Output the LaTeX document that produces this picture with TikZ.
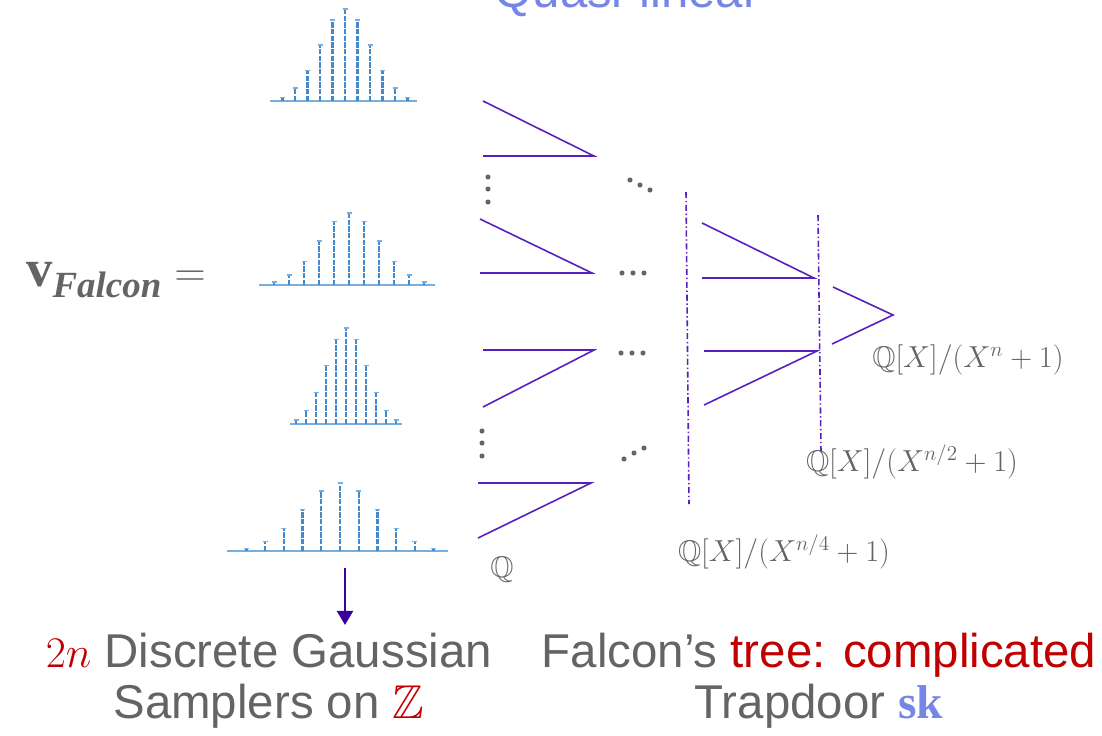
\documentclass[tikz,border=0pt]{standalone}
\usepackage[no-math]{fontspec}
\setmainfont{Liberation Sans}
\newfontfamily\serifbold{Liberation Serif}
\usepackage{amsmath,amssymb}
\usetikzlibrary{arrows.meta}
\definecolor{txtgray}{RGB}{100,100,100}
\definecolor{darkred}{RGB}{192,0,0}
\definecolor{skblue}{RGB}{118,134,230}
\definecolor{treeviolet}{RGB}{88,30,190}
\definecolor{arrowviolet}{RGB}{60,0,160}
\definecolor{stemblue}{RGB}{66,138,205}
\definecolor{axisblue}{RGB}{120,175,220}
\begin{document}
\begin{tikzpicture}[x=0.02cm, y=-0.02cm,
        stem/.style={draw=stemblue, line width=1.3pt, dash pattern=on 3pt off 0.8pt},
        stemcap/.style={draw=axisblue, line width=0.8pt},
        axisline/.style={draw=axisblue, line width=1pt},
        tree/.style={draw=treeviolet, line width=0.9pt},
        level/.style={draw=treeviolet, line width=0.9pt, dash pattern=on 3.5pt off 1.5pt on 0.8pt off 1.5pt},
        dotfill/.style={fill=txtgray},
        ring/.style={text=txtgray, inner sep=0pt, font=\fontsize{17}{20}\selectfont},
        caption/.style={text=txtgray, align=center, inner sep=0pt, font=\fontsize{27}{29}\selectfont},
        down/.style={-{Triangle[length=8pt, width=9pt]}, draw=arrowviolet, fill=arrowviolet, line width=1.6pt}
    ]
    \useasboundingbox (0,0) rectangle (1102,735);

    \node[anchor=base, text=skblue, font=\fontsize{28}{30}\selectfont] (quasi) at (627,7) {Quasi-linear};

    % the 2n samplers
    \foreach \cx/\by/\dx/\hh/\xl/\xr in {345/101/12.5/92/270/417, 349/285/15/72/259/435,
                                         346/424/10/96/290/402, 340/551/18.7/68/227/448} {
        \draw[axisline] (\xl,\by) -- (\xr,\by);
        \foreach \k/\r in {-5/0.04,-4/0.14,-3/0.33,-2/0.61,-1/0.88,0/1,1/0.88,2/0.61,3/0.33,4/0.14,5/0.04} {
            \draw[stem] (\cx+\k*\dx,\by) -- ++(0,-\hh*\r);
            \draw[stemcap] (\cx+\k*\dx-2.5,\by-\hh*\r) -- ++(5,0);
        }
    }

    \node[text=txtgray, inner sep=0pt, font=\fontsize{30}{32}\selectfont] (vf) at (116,280)
        {$\text{\serifbold\bfseries v}_{\text{\serifbold\bfseries\itshape Falcon}} =$};

    % first level of the tree
    \draw[tree] (483,101) -- (594,156) -- (483,156);
    \draw[tree] (480,219) -- (592,273) -- (480,273);
    \draw[tree] (483,350) -- (594,350) -- (483,407);
    \draw[tree] (478,483) -- (591,483) -- (478,538);

    % second and third level
    \draw[tree] (702,223) -- (814,278) -- (702,278);
    \draw[tree] (704,351) -- (817,351) -- (704,405);
    \draw[tree] (833,287) -- (893,315) -- (832,344);

    \draw[level] (686,192) -- (689,504);
    \draw[level] (818,215) -- (821,452);

    % dots
    \foreach \p in {(488,177),(488,189),(488,202),(482,431),(482,443),(482,456),
                    (630,180),(640,185),(650,190),(622,273),(633,273),(644,273),
                    (621,353),(632,353),(643,353),(624,459),(634,453),(644,448)}
        \fill[dotfill] \p circle (1.45pt);

    \node[ring] (rq) at (502,570) {$\mathbb{Q}$};
    \node[ring] (rn4) at (784,552) {$\mathbb{Q}[X]/(X^{n/4}+1)$};
    \node[ring] (rn2) at (912,462) {$\mathbb{Q}[X]/(X^{n/2}+1)$};
    \node[ring] (rn) at (968,360) {$\mathbb{Q}[X]/(X^{n}+1)$};

    \node[caption] (samplers) at (269,681)
        {\textcolor{darkred}{$2n$} Discrete Gaussian\\Samplers on \textcolor{darkred}{$\mathbb{Z}$}};
    \node[caption] (trapdoor) at (819,681)
        {Falcon’s \textcolor{darkred}{tree: complicated}\\Trapdoor \textcolor{skblue}{\serifbold\bfseries sk}};

    \coordinate (d4base) at (345,568);
    \coordinate (d4tip) at (345,625);
    \draw[down] (d4base) -- (d4tip);
\end{tikzpicture}
\end{document}
